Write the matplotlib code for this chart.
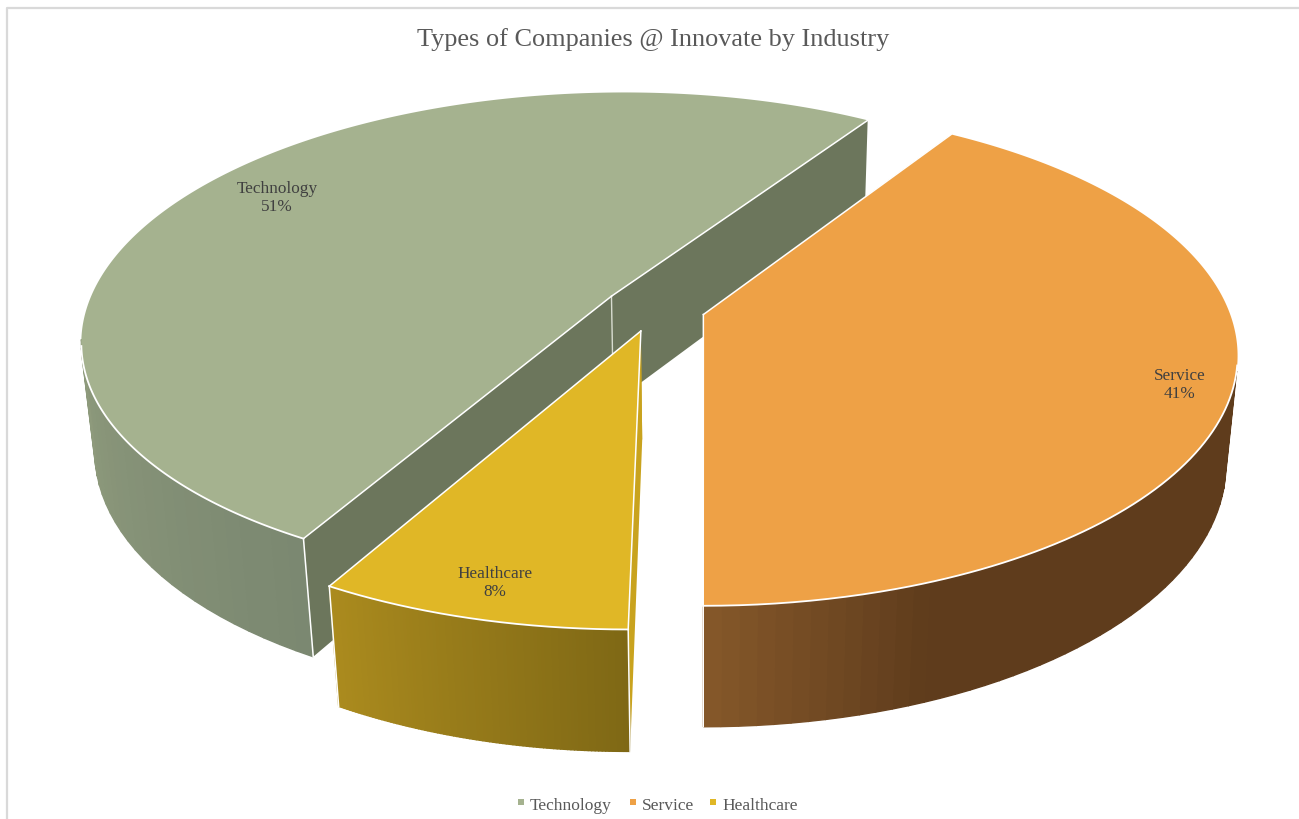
import numpy as np
import matplotlib
matplotlib.use("Agg")
import matplotlib.pyplot as plt
from matplotlib.colors import to_rgb
from matplotlib.patches import Polygon, Rectangle

plt.rcParams['font.family'] = ['Liberation Serif', 'DejaVu Serif']

TITLE = "Types of Companies @ Innovate by Industry"
categories = ["Technology", "Service", "Healthcare"]
shares = [51, 41, 8]
top_colors = ["#a5b28f", "#eea146", "#e0b726"]
cut_colors = ["#6c765c", "#5f3c1c", "#c9a31e"]
# wall shading, colour stops over clockwise angle from the back of the pie
wall_stops = {
    "Technology": [(208.8, "#7b8871"), (270, "#939f7f"), (300, "#939f7f")],
    "Service": [(32.4, "#5f3c1c"), (158, "#5f3c1c"), (180, "#87592a")],
    "Healthcare": [(180, "#7f6815"), (208.8, "#ab8b1e")],
}
label_pos = [(277, 198), (1180, 385), (495, 583)]

# camera for the 3d pie, pie radius is 1
TILT = np.radians(29.2)
FOCAL = 2780.0
DIST = 5.3
HEIGHT = 0.235
EXPLODE = 0.097
PRINCIPAL = (704.0, 400.0)
CENTER = (654.5, 309.0)


def project(x, y, z):
    x, y, z = np.asarray(x, float), np.asarray(y, float), np.asarray(z, float)
    off_x = (CENTER[0] - PRINCIPAL[0]) * DIST / FOCAL
    off_y = (PRINCIPAL[1] - CENTER[1]) * DIST / FOCAL
    yc = y * np.sin(TILT) + z * np.cos(TILT) + off_y
    zc = DIST + y * np.cos(TILT) - z * np.sin(TILT)
    return PRINCIPAL[0] + FOCAL * (x + off_x) / zc, PRINCIPAL[1] - FOCAL * yc / zc


def slice_angles():
    # service ends pointing straight at the viewer, technology comes before it
    spans = np.array(shares) / sum(shares) * 360
    srv_start = 180 - spans[1]
    tech_start = srv_start - spans[0]
    return {
        "Technology": (tech_start, srv_start),
        "Service": (srv_start, 180),
        "Healthcare": (180, 180 + spans[2]),
    }


def stop_color(name, angle):
    stops = wall_stops[name]
    a = [s[0] for s in stops]
    c = np.array([to_rgb(s[1]) for s in stops])
    if name == "Technology":
        angle = angle % 360
    return [np.interp(angle, a, c[:, i]) for i in range(3)]


def draw_slice(ax, idx):
    name = categories[idx]
    a0, a1 = slice_angles()[name]
    mid = np.radians((a0 + a1) / 2)
    ox, oy = EXPLODE * np.sin(mid), EXPLODE * np.cos(mid)
    th = np.radians(np.linspace(a0, a1, 361))
    ex, ey = ox + np.sin(th), oy + np.cos(th)

    # cut faces
    for i in (0, -1):
        xs = [ox, ex[i], ex[i], ox]
        ys = [oy, ey[i], ey[i], oy]
        zs = [0, 0, -HEIGHT, -HEIGHT]
        px, py = project(xs, ys, zs)
        ax.add_patch(Polygon(np.c_[px, py], fc=cut_colors[idx], ec="none", zorder=idx * 3 + 1))

    # outer wall, a coarser run of strips so the shading can vary without seams
    step = max(1, len(th) // 90)
    for j in range(0, len(th) - 1, step):
        k = min(j + step, len(th) - 1)
        if np.cos(th[j]) > -0.2:
            continue
        xs = [ex[j], ex[k], ex[k], ex[j]]
        ys = [ey[j], ey[k], ey[k], ey[j]]
        zs = [0, 0, -HEIGHT, -HEIGHT]
        px, py = project(xs, ys, zs)
        col = stop_color(name, np.degrees(th[j]))
        ax.add_patch(Polygon(np.c_[px, py], fc=col, ec=col, lw=1.0, zorder=idx * 3 + 2))

    # top face
    px, py = project(np.r_[ox, ex], np.r_[oy, ey], np.zeros(len(ex) + 1))
    ax.add_patch(Polygon(np.c_[px, py], fc=top_colors[idx], ec="none", zorder=idx * 3 + 3))

    # white edges
    front = np.cos(th) < -0.2
    fx, fy = project(ex[front], ey[front], np.zeros(front.sum()))
    ax.plot(fx, fy, color="white", lw=1.3, zorder=idx * 3 + 3)
    for i in (0, -1):
        px, py = project([ox, ex[i]], [oy, ey[i]], [0, 0])
        ax.plot(px, py, color="white", lw=1.1, zorder=idx * 3 + 3)
        if np.cos(th[i]) < 0:
            px, py = project([ex[i], ex[i]], [ey[i], ey[i]], [0, -HEIGHT])
            ax.plot(px, py, color="white", lw=1.1, zorder=idx * 3 + 2)
    px, py = project([ox, ox], [oy, oy], [0, -HEIGHT])
    if name == "Technology":
        ax.plot(px, py, color="#d8dcd0", lw=1.0, zorder=idx * 3 + 2)


fig = plt.figure(figsize=(12.99, 8.2), dpi=100)
ax = fig.add_axes([0, 0, 1, 1])
ax.set_xlim(0, 1299)
ax.set_ylim(820, 0)
ax.axis("off")

# chart frame, open at the right and bottom
ax.plot([7, 7, 1299], [820, 9, 9], color="#d9d9d9", lw=1.6, zorder=0)

ax.text(653, 40, TITLE, fontsize=18.9, color="#595959", ha="center", va="center")

for i in (0, 2, 1):
    draw_slice(ax, i)

for name, val, pos in zip(categories, shares, label_pos):
    ax.text(pos[0], pos[1], f"{name}\n{val}%", fontsize=12.4, color="#404040", ha="center", va="center",
            linespacing=1.1, zorder=20)

# legend row along the bottom
legend_x = [521, 633, 713]
for name, col, lx in zip(categories, top_colors, legend_x):
    ax.add_patch(Rectangle((lx - 3, 800), 6, 6, fc=col, ec="none"))
    ax.text(lx + 9, 806, name, fontsize=12.5, color="#595959", ha="left", va="center")

fig.savefig("out.png", dpi=100)
